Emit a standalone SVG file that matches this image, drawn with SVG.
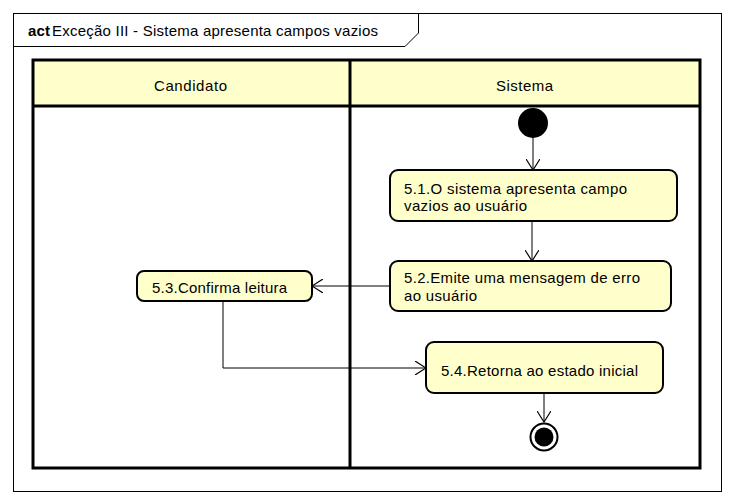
<svg xmlns="http://www.w3.org/2000/svg" width="734" height="504" viewBox="0 0 734 504">
<style>
text{font-family:"Liberation Sans",Arial,sans-serif;font-size:15px;fill:#000}
.act{fill:#ffffcc;stroke:#000;stroke-width:2}
.lane{fill:none;stroke:#000;stroke-width:3}
.hdr{fill:#ffffcc;stroke:none}
.edge{fill:none;stroke:#000;stroke-width:1}
</style>
<defs>
<marker id="arr" viewBox="0 0 12 14" refX="11" refY="7" markerWidth="12" markerHeight="14" markerUnits="userSpaceOnUse" orient="auto">
<path d="M0,0 L11,7 L0,14" fill="none" stroke="#000" stroke-width="1.2"/>
</marker>
</defs>
<rect width="734" height="504" fill="#fff"/>
<g id="frame">
<rect x="13.5" y="13.5" width="708" height="478" fill="none" stroke="#000" stroke-width="1"/>
<path d="M13.5,46.5 H405 L418.5,33 V13.5" fill="none" stroke="#000" stroke-width="1"/>
<text x="28" y="36" font-weight="bold" textLength="22" lengthAdjust="spacing">act</text>
<text x="52" y="36" textLength="326" lengthAdjust="spacing">Exceção III - Sistema apresenta campos vazios</text>
</g>
<g id="lanes">
<rect class="hdr" x="33" y="60" width="667" height="47"/>
<rect class="lane" x="33" y="60" width="667" height="408"/>
<line class="lane" x1="33" y1="106" x2="700" y2="106"/>
<line class="lane" x1="350" y1="60" x2="350" y2="468"/>
<text x="154" y="91" textLength="73" lengthAdjust="spacing">Candidato</text>
<text x="496" y="91" textLength="57" lengthAdjust="spacing">Sistema</text>
</g>
<g id="connectors">
<line class="edge" x1="533" y1="138" x2="533" y2="170" marker-end="url(#arr)"/>
<line class="edge" x1="532" y1="221" x2="532" y2="261" marker-end="url(#arr)"/>
<line class="edge" x1="390" y1="286" x2="312" y2="286" marker-end="url(#arr)"/>
<polyline class="edge" points="223,301 223,368 426,368" marker-end="url(#arr)"/>
<line class="edge" x1="544" y1="393" x2="544" y2="422" marker-end="url(#arr)"/>
</g>
<g id="initial">
<circle cx="533" cy="123" r="15" fill="#000"/>
</g>
<g id="a51">
<rect class="act" x="390" y="170" width="287" height="51" rx="8"/>
<text x="404" y="193.5" textLength="223" lengthAdjust="spacing">5.1.O sistema apresenta campo</text>
<text x="404" y="211" textLength="123" lengthAdjust="spacing">vazios ao usuário</text>
</g>
<g id="a52">
<rect class="act" x="390" y="261" width="281" height="50" rx="8"/>
<text x="404" y="283" textLength="236" lengthAdjust="spacing">5.2.Emite uma mensagem de erro</text>
<text x="404" y="301" textLength="73" lengthAdjust="spacing">ao usuário</text>
</g>
<g id="a53">
<rect class="act" x="137" y="271" width="175" height="30" rx="7"/>
<text x="152" y="292.5" textLength="135" lengthAdjust="spacing">5.3.Confirma leitura</text>
</g>
<g id="a54">
<rect class="act" x="426" y="342" width="237" height="51" rx="8"/>
<text x="441" y="375.5" textLength="197" lengthAdjust="spacing">5.4.Retorna ao estado inicial</text>
</g>
<g id="final">
<circle cx="544" cy="437" r="13.5" fill="#fff" stroke="#000" stroke-width="2"/>
<circle cx="544" cy="437" r="9.5" fill="#000"/>
</g>
</svg>
